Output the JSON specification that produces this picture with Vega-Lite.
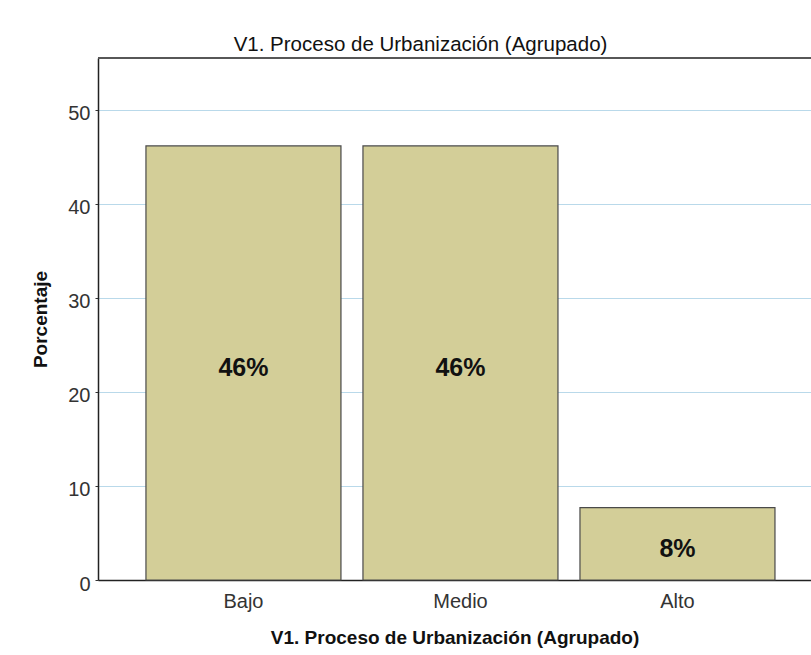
{
  "$schema": "https://vega.github.io/schema/vega-lite/v6.json",
  "autosize": "none",
  "width": 713,
  "height": 522,
  "padding": {"left": 98, "top": 58, "right": 0, "bottom": 75},
  "background": "white",
  "config": {
    "font": "Liberation Sans",
    "view": {"stroke": null}
  },
  "title": {
    "text": "V1. Proceso de Urbanización (Agrupado)",
    "fontSize": 20.5,
    "fontWeight": "normal",
    "color": "#111111",
    "anchor": "middle",
    "dx": -34,
    "offset": 2
  },
  "data": {
    "values": [
      {"cat": "Bajo", "pct": 46.15, "label": "46%"},
      {"cat": "Medio", "pct": 46.15, "label": "46%"},
      {"cat": "Alto", "pct": 7.69, "label": "8%"}
    ]
  },
  "layer": [
    {
      "mark": {"type": "bar", "fill": "#d3ce98", "stroke": "#4a4a4a", "strokeWidth": 1.2},
      "encoding": {
        "x": {
          "field": "cat",
          "type": "nominal",
          "sort": ["Bajo", "Medio", "Alto"],
          "scale": {"paddingInner": 0.1014, "paddingOuter": 0.1935, "align": 0.571},
          "axis": {
            "title": "V1. Proceso de Urbanización (Agrupado)",
            "titleFontSize": 19,
            "titleFontWeight": "bold",
            "titleColor": "#111111",
            "titlePadding": 17,
            "labelAngle": 0,
            "labelFontSize": 20,
            "labelColor": "#333333",
            "labelPadding": 11,
            "ticks": false,
            "domainColor": "#222222",
            "domainWidth": 1.5
          }
        },
        "y": {
          "field": "pct",
          "type": "quantitative",
          "scale": {"domain": [0, 55.5], "nice": false},
          "axis": {
            "title": "Porcentaje",
            "titleFontSize": 19,
            "titleFontWeight": "bold",
            "titleColor": "#111111",
            "titlePadding": 17,
            "values": [0, 10, 20, 30, 40, 50],
            "labelFontSize": 20,
            "labelColor": "#333333",
            "labelPadding": 5,
            "labelOffset": 4,
            "tickSize": 3,
            "tickColor": "#333333",
            "domainColor": "#222222",
            "domainWidth": 1.5,
            "grid": true,
            "gridColor": "#b9d9ea",
            "gridWidth": 1.2
          }
        }
      }
    },
    {
      "mark": {"type": "rule", "color": "#555555", "strokeWidth": 1.5},
      "encoding": {"y": {"datum": 55.5}}
    },
    {
      "transform": [{"calculate": "datum.pct / 2", "as": "mid"}],
      "mark": {"type": "text", "fontSize": 25, "fontWeight": "bold", "color": "#111111", "baseline": "middle", "dy": 5},
      "encoding": {
        "x": {"field": "cat", "type": "nominal", "sort": ["Bajo", "Medio", "Alto"]},
        "y": {"field": "mid", "type": "quantitative"},
        "text": {"field": "label"}
      }
    }
  ]
}
